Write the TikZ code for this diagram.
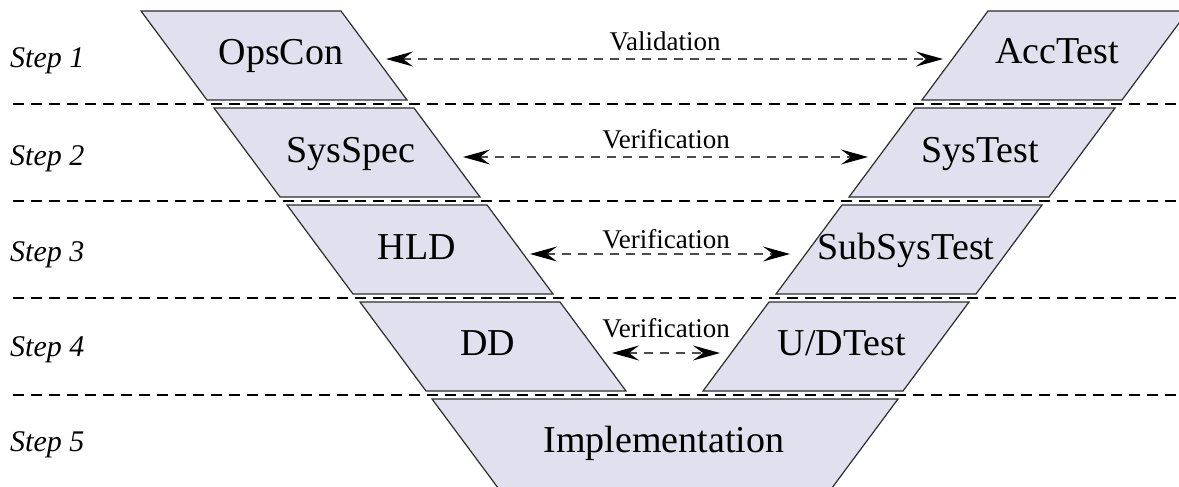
\documentclass[tikz,border=0pt]{standalone}
\usepackage{fontspec}
\setmainfont{Liberation Serif}
\usetikzlibrary{arrows.meta}
\definecolor{boxfill}{RGB}{224,224,238}
\definecolor{boxline}{RGB}{45,45,45}
\begin{document}
\begin{tikzpicture}[x=1pt,y=-1pt,
  stage/.style={draw=boxline,fill=boxfill,line width=1.2pt,line join=miter},
  stagetext/.style={font=\fontsize{38}{40}\selectfont,inner sep=0pt,anchor=base},
  steplabel/.style={font=\itshape\fontsize{30}{32}\selectfont,anchor=base west,inner sep=0pt},
  sep/.style={line width=2pt,dash pattern=on 11pt off 7pt},
  vvlabel/.style={font=\fontsize{27}{29}\selectfont,inner sep=0pt,anchor=base},
  vvtip/.style={},
  vvarrow/.style={black!70,line width=1.2pt,dash pattern=on 9pt off 7pt,
    {Stealth[length=27pt,width=15pt,inset=10pt,color=black]}-{Stealth[length=27pt,width=15pt,inset=10pt,color=black]}}
]
\useasboundingbox (0,0) rectangle (1179,487);
\clip (0,0) rectangle (1179,487);

% separators
\foreach \yy in {104,201,298,395}
  \draw[sep] (13,\yy) -- (1185,\yy);

% left and right stages
\foreach \i in {0,1,2,3}{
  \draw[stage] ({141+73*\i},{11+97*\i}) -- ++(200,0) -- ++(66,89) -- ++(-200,0) -- cycle;
  \draw[stage] ({988-73*\i},{11+97*\i}) -- ++(200,0) -- ++(-66,89) -- ++(-200,0) -- cycle;
}
% bottom stage
\draw[stage] (432,399) -- (898,399) -- (823,500) -- (507,500) -- cycle;

% stage texts
\node[stagetext] (opscon) at (281,65) {OpsCon};
\node[stagetext] (acctest) at (1057,64) {AccTest};
\node[stagetext] (sysspec) at (351,162) {SysSpec};
\node[stagetext] (systest) at (980,162) {SysTest};
\node[stagetext] (hld) at (417,259) {HLD};
\node[stagetext] (subsystest) at (906,259) {SubSysTest};
\node[stagetext] (dd) at (488,355) {DD};
\node[stagetext] (udtest) at (842,355) {U/DTest};
\node[stagetext] (impl) at (664,452) {Implementation};

% step labels
\node[steplabel] (s1) at (10,68) {Step 1};
\node[steplabel] (s2) at (10,165) {Step 2};
\node[steplabel] (s3) at (10,261) {Step 3};
\node[steplabel] (s4) at (10,356) {Step 4};
\node[steplabel] (s5) at (10,451) {Step 5};

% V&V arrows
\coordinate (a1l) at (386,59);  \coordinate (a1r) at (943,59);
\coordinate (a2l) at (463,157); \coordinate (a2r) at (868,157);
\coordinate (a3l) at (530,254); \coordinate (a3r) at (790,254);
\coordinate (a4l) at (612,353); \coordinate (a4r) at (720,353);
\draw[vvarrow] (a1l) -- (a1r);
\draw[vvarrow] (a2l) -- (a2r);
\draw[vvarrow] (a3l) -- (a3r);
\draw[vvarrow] (a4l) -- (a4r);
\node[vvlabel] (l1) at (665,51) {Validation};
\node[vvlabel] (l2) at (666,148) {Verification};
\node[vvlabel] (l3) at (666,248) {Verification};
\node[vvlabel] (l4) at (666,337) {Verification};
\end{tikzpicture}
\end{document}
